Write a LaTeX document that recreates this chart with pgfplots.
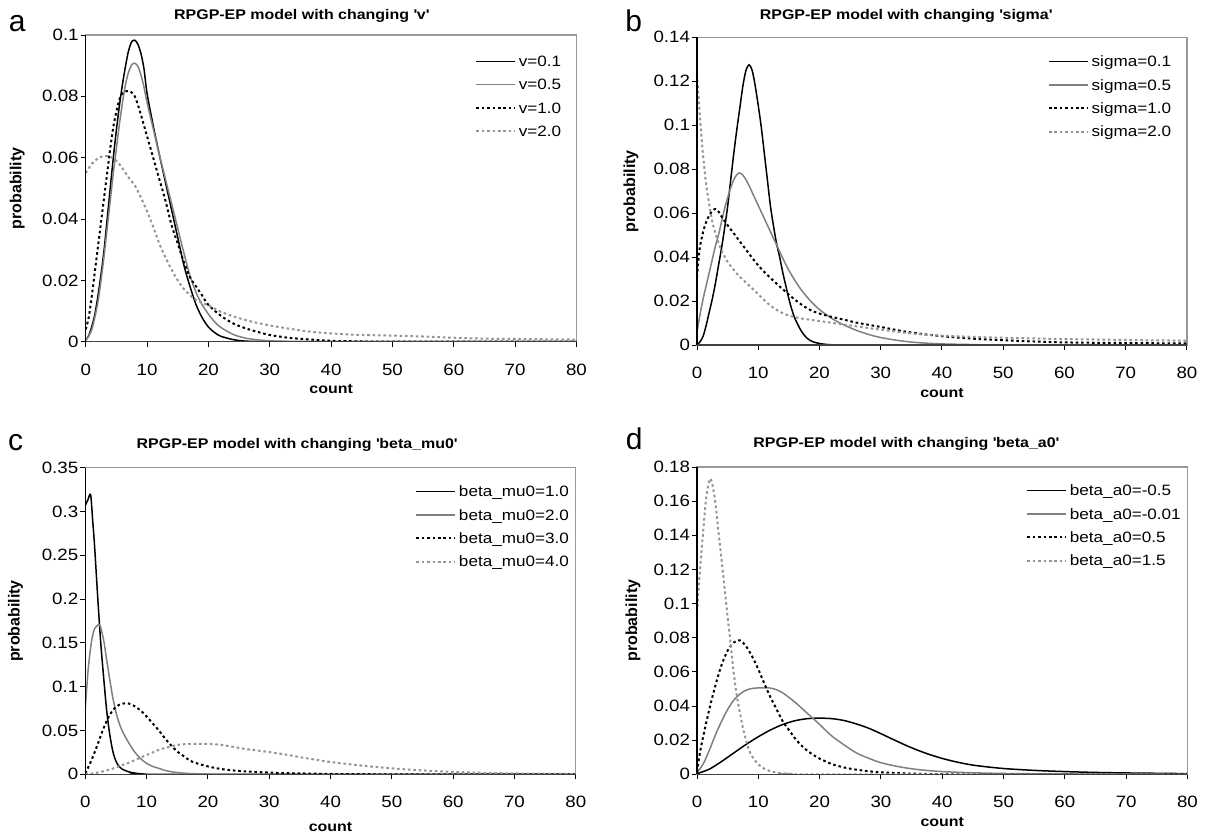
\documentclass[border=0pt]{standalone}
\usepackage{fontspec}
\setmainfont{Liberation Sans}[FakeStretch=1.14]
\newfontfamily\plainsans{Liberation Sans}
\usepackage{pgfplots}
\pgfplotsset{compat=1.18}

% line styles of the four series (Excel look)
\tikzset{
  s1/.style={black, line width=0.75pt, smooth, tension=0.5},
  s2/.style={black!50, line width=0.75pt, smooth, tension=0.5},
  s3/.style={black, line width=1pt, dash pattern=on 1.3pt off 1.4pt, smooth, tension=0.5},
  s4/.style={black!42, line width=1pt, dash pattern=on 1.3pt off 1.4pt, smooth, tension=0.5},
}

\pgfplotsset{
  panel/.style={
    scale only axis, anchor=south west,
    xmin=0, xmax=80, ymin=0,
    xtick={0,10,20,30,40,50,60,70,80},
    xticklabels={\mbox{0},\mbox{10},\mbox{20},\mbox{30},\mbox{40},\mbox{50},\mbox{60},\mbox{70},\mbox{80}},
    tick align=outside, tick pos=left,
    major tick length=2.5pt,
    axis line style={black!40, line width=0.6pt},
    every tick/.style={black, line width=0.5pt},
    ticklabel style={font=\fontsize{8.2}{9}\selectfont},
    xticklabel style={yshift=-5pt},
    yticklabel style={xshift=2.5pt},
    title style={font=\bfseries\fontsize{7}{8}\selectfont, anchor=base, yshift=-6pt},
    xlabel style={font=\bfseries\fontsize{7}{8}\selectfont, anchor=center},
    ylabel style={font=\plainsans\bfseries\fontsize{8}{9}\selectfont, anchor=center},
    xlabel=count, ylabel=probability,
    legend cell align=left,
    legend style={draw=none, fill=none, inner sep=0pt, anchor=north west,
      row sep=4.45pt, column sep=1.5pt, font=\fontsize{7.5}{8}\selectfont,
      cells={anchor=base west},
      nodes={inner sep=0pt, text height=5.7pt, text depth=1.5pt}},
    legend image code/.code={\draw[#1] (0pt,2.6pt) -- (19.3pt,2.6pt);},
    after end axis/.code={
      \draw[black, line width=0.6pt] (rel axis cs:0,1) -- (rel axis cs:0,0);
      \draw[black!75, line width=0.6pt] (rel axis cs:0,0) -- (rel axis cs:1,0);
    },
  },
}

\begin{document}
\begin{tikzpicture}
\useasboundingbox (0,0) rectangle (603.5pt,-418.5pt);

\node[anchor=base west, inner sep=0pt, font=\plainsans\fontsize{15}{18}\selectfont] at (4.2pt,-15.85pt) {a};
\node[anchor=base west, inner sep=0pt, font=\plainsans\fontsize{15}{18}\selectfont] at (312.5pt,-15.85pt) {b};
\node[anchor=base west, inner sep=0pt, font=\plainsans\fontsize{15}{18}\selectfont] at (3.9pt,-225.35pt) {c};
\node[anchor=base west, inner sep=0pt, font=\plainsans\fontsize{15}{18}\selectfont] at (312.7pt,-224.65pt) {d};

% ---------------- a ----------------
\begin{axis}[panel, at={(42.85pt,-170.85pt)}, width=245.4pt, height=153.35pt,
  ymax=0.1, ytick={0,0.02,0.04,0.06,0.08,0.1},
  yticklabels={\mbox{0},\mbox{0.02},\mbox{0.04},\mbox{0.06},\mbox{0.08},\mbox{0.1}},
  title={RPGP-EP model with changing \textquotesingle v\textquotesingle},
  title style={at={(rel axis cs:0.44,1.052)}},
  ylabel style={at={(rel axis cs:-0.1396,0.5)}},
  xlabel style={at={(rel axis cs:0.5,-0.155)}},
  legend style={at={(rel axis cs:0.793,0.9358)}}]
\addplot[s1] table {
x y
0 0.0005
0.5 0.002
1 0.005
1.5 0.009
2 0.015
2.5 0.022
3 0.03
3.5 0.04
4 0.05
4.5 0.06
5 0.069
5.5 0.077
6 0.084
6.5 0.09
7 0.095
7.5 0.0978
8 0.0983
8.5 0.097
9 0.094
9.5 0.089
10 0.081
11 0.0705
12 0.061
13 0.052
14 0.043
15 0.034
16 0.025
17 0.018
18 0.012
19 0.0078
20 0.0048
21 0.003
22 0.0018
24 0.0007
26 0.0002
28 0.0001
30 0
80 0
};
\addlegendentry{v=0.1}
\addplot[s2] table {
x y
0 0.0005
0.5 0.0018
1 0.004
1.5 0.008
2 0.013
2.5 0.02
3 0.028
3.5 0.037
4 0.046
4.5 0.055
5 0.063
5.5 0.071
6 0.078
6.5 0.084
7 0.088
7.5 0.0903
8 0.0908
8.5 0.0898
9 0.087
9.5 0.083
10 0.078
11 0.0695
12 0.061
13 0.053
14 0.045
15 0.037
16 0.029
17 0.0215
18 0.016
19 0.012
20 0.009
21 0.0065
22 0.0047
24 0.0024
26 0.0012
28 0.0006
30 0.0003
33 0.0001
36 0
80 0
};
\addlegendentry{v=0.5}
\addplot[s3] table {
x y
0 0.004
0.5 0.008
1 0.015
1.5 0.023
2 0.031
2.5 0.039
3 0.047
3.5 0.055
4 0.063
4.5 0.07
5 0.075
5.5 0.079
6 0.081
7 0.0818
8 0.08
9 0.074
10 0.067
11 0.06
12 0.053
13 0.046
14 0.038
15 0.032
16 0.026
17 0.021
18 0.018
19 0.015
20 0.012
22 0.0085
24 0.006
26 0.0044
28 0.0032
30 0.0022
33 0.0013
36 0.0008
40 0.0003
45 0.0001
50 0
80 0
};
\addlegendentry{v=1.0}
\addplot[s4] table {
x y
0 0.055
1 0.058
2 0.0598
3 0.0605
4 0.0603
5 0.059
6 0.0565
7 0.0535
8 0.051
9 0.047
10 0.0425
11 0.0375
12 0.032
13 0.0275
14 0.0235
15 0.02
16 0.0172
17 0.0152
18 0.0136
20 0.0118
22 0.0098
24 0.0083
26 0.0071
28 0.0061
30 0.0053
33 0.0043
36 0.0034
40 0.0027
45 0.0022
50 0.002
55 0.0017
60 0.0013
65 0.001
70 0.0009
75 0.0008
80 0.0007
};
\addlegendentry{v=2.0}
\end{axis}

% ---------------- b ----------------
\begin{axis}[panel, at={(348.5pt,-172.5pt)}, width=245pt, height=153.85pt,
  ymax=0.14, ytick={0,0.02,0.04,0.06,0.08,0.1,0.12,0.14},
  yticklabels={\mbox{0},\mbox{0.02},\mbox{0.04},\mbox{0.06},\mbox{0.08},\mbox{0.1},\mbox{0.12},\mbox{0.14}},
  title={RPGP-EP model with changing \textquotesingle sigma\textquotesingle},
  title style={at={(rel axis cs:0.4265,1.0595)}},
  ylabel style={at={(rel axis cs:-0.1347,0.5)}},
  xlabel style={at={(rel axis cs:0.5,-0.155)}},
  legend style={at={(rel axis cs:0.7157,0.9425)}}]
\addplot[s1] table {
x y
0 0
0.5 0.0015
1 0.004
1.5 0.009
2 0.015
2.5 0.021
3 0.028
3.5 0.036
4 0.044
4.5 0.053
5 0.063
5.5 0.075
6 0.087
6.5 0.098
7 0.108
7.5 0.118
8 0.125
8.5 0.1275
9 0.125
9.5 0.118
10 0.109
10.5 0.099
11 0.087
11.5 0.075
12 0.063
12.5 0.054
13 0.046
13.5 0.04
14 0.033
14.5 0.027
15 0.021
15.5 0.016
16 0.012
17 0.0065
18 0.003
19 0.0014
20 0.0007
21 0.0003
22 0.0001
24 0
80 0
};
\addlegendentry{sigma=0.1}
\addplot[s2] table {
x y
0 0.006
0.5 0.014
1 0.021
1.5 0.027
2 0.033
2.5 0.039
3 0.045
3.5 0.05
4 0.056
4.5 0.062
5 0.067
5.5 0.0715
6 0.0752
6.5 0.0775
7 0.0783
7.5 0.0772
8 0.0752
8.5 0.0725
9 0.0695
9.5 0.0665
10 0.0635
11 0.0575
12 0.0515
13 0.0455
14 0.0395
15 0.034
16 0.0293
17 0.0252
18 0.0217
19 0.0187
20 0.0161
22 0.0121
24 0.0091
26 0.0067
28 0.0048
30 0.0034
33 0.002
36 0.0011
40 0.0005
45 0.0002
50 0
80 0
};
\addlegendentry{sigma=0.5}
\addplot[s3] table {
x y
0 0.031
0.25 0.039
0.5 0.045
1 0.0515
1.5 0.056
2 0.059
2.5 0.061
3 0.0619
3.5 0.0608
4 0.0585
5 0.0545
6 0.0508
7 0.0471
8 0.0434
9 0.0397
10 0.0362
11 0.0332
12 0.0305
13 0.0279
14 0.0254
15 0.0229
16 0.0206
17 0.0185
18 0.0167
19 0.0153
20 0.0143
22 0.0128
24 0.0115
26 0.0102
28 0.0092
30 0.0082
33 0.0066
36 0.0053
40 0.004
45 0.0029
50 0.0022
55 0.0016
60 0.0012
65 0.001
70 0.0009
75 0.0008
80 0.0007
};
\addlegendentry{sigma=1.0}
\addplot[s4] table {
x y
0 0.123
0.25 0.113
0.5 0.103
0.75 0.094
1 0.086
1.5 0.073
2 0.064
2.5 0.056
3 0.051
3.5 0.0465
4 0.043
5 0.0378
6 0.0342
7 0.031
8 0.0284
9 0.0258
10 0.0231
11 0.0204
12 0.0179
13 0.016
14 0.0145
15 0.0134
16 0.0127
17 0.0121
18 0.0117
20 0.0109
22 0.0101
24 0.0093
26 0.0085
28 0.0077
30 0.007
33 0.0059
36 0.005
40 0.0043
45 0.0037
50 0.0033
55 0.003
60 0.0027
65 0.0025
70 0.0023
75 0.0021
80 0.002
};
\addlegendentry{sigma=2.0}
\end{axis}

% ---------------- c ----------------
\begin{axis}[panel, at={(42.65pt,-387.15pt)}, width=245.25pt, height=153.3pt,
  ymax=0.35, ytick={0,0.05,0.1,0.15,0.2,0.25,0.3,0.35},
  yticklabels={\mbox{0},\mbox{0.05},\mbox{0.1},\mbox{0.15},\mbox{0.2},\mbox{0.25},\mbox{0.3},\mbox{0.35}},
  title={RPGP-EP model with changing \textquotesingle beta\_mu0\textquotesingle},
  title style={at={(rel axis cs:0.4316,1.0633)}},
  ylabel style={at={(rel axis cs:-0.1425,0.5)}},
  xlabel style={at={(rel axis cs:0.5,-0.172)}},
  legend style={at={(rel axis cs:0.6722,0.9436)}}]
\addplot[s1] table {
x y
0 0.307
0.4 0.313
0.87 0.319
1.2 0.29
1.5 0.262
2 0.205
2.5 0.152
3 0.11
3.5 0.072
4 0.045
4.5 0.026
5 0.015
5.5 0.009
6 0.006
7 0.003
8 0.0015
9 0.0006
10 0.0002
12 0
80 0
};
\addlegendentry{beta\_mu0=1.0}
\addplot[s2] table {
x y
0 0.075
0.25 0.1
0.5 0.122
1 0.151
1.5 0.166
2.2 0.171
2.5 0.168
3 0.153
3.5 0.13
4 0.108
4.5 0.087
5 0.071
5.5 0.059
6 0.05
7 0.037
8 0.026
9 0.018
10 0.0125
11 0.009
12 0.0068
13 0.0045
14 0.003
15 0.002
17 0.0009
20 0.0003
25 0
80 0
};
\addlegendentry{beta\_mu0=2.0}
\addplot[s3] table {
x y
0 0.001
1 0.016
2 0.034
3 0.053
4 0.068
5 0.077
6 0.0805
7 0.081
8 0.078
9 0.073
10 0.066
11 0.058
12 0.05
13 0.041
14 0.033
15 0.026
16 0.021
17 0.016
18 0.013
20 0.009
22 0.0062
24 0.0045
26 0.0034
28 0.0026
30 0.002
33 0.0013
36 0.0009
40 0.0004
45 0.0002
50 0
80 0
};
\addlegendentry{beta\_mu0=3.0}
\addplot[s4] table {
x y
0 0
1 0.0008
2 0.002
3 0.0035
4 0.0055
5 0.0078
6 0.0105
7 0.013
8 0.016
9 0.019
10 0.022
11 0.025
12 0.028
13 0.03
14 0.032
15 0.0335
16 0.0343
18 0.0348
20 0.0347
22 0.0337
24 0.0315
26 0.029
28 0.0272
30 0.0254
33 0.0222
36 0.0184
40 0.0141
45 0.01
50 0.0068
55 0.0045
60 0.0028
65 0.0017
70 0.001
75 0.0006
80 0.0004
};
\addlegendentry{beta\_mu0=4.0}
\end{axis}

% ---------------- d ----------------
\begin{axis}[panel, at={(348.5pt,-387.15pt)}, width=245.25pt, height=153.65pt,
  ymax=0.18, ytick={0,0.02,0.04,0.06,0.08,0.1,0.12,0.14,0.16,0.18},
  yticklabels={\mbox{0},\mbox{0.02},\mbox{0.04},\mbox{0.06},\mbox{0.08},\mbox{0.1},\mbox{0.12},\mbox{0.14},\mbox{0.16},\mbox{0.18}},
  title={RPGP-EP model with changing \textquotesingle beta\_a0\textquotesingle},
  title style={at={(rel axis cs:0.4265,1.063)}},
  ylabel style={at={(rel axis cs:-0.1306,0.5)}},
  xlabel style={at={(rel axis cs:0.5,-0.155)}},
  legend style={at={(rel axis cs:0.6707,0.9447)}}]
\addplot[s1] table {
x y
0 0.0004
2 0.003
4 0.0075
6 0.0125
8 0.0175
10 0.022
12 0.026
14 0.0292
16 0.0314
18 0.0326
20 0.0329
22 0.0326
24 0.0315
26 0.0295
28 0.027
30 0.0238
32 0.0204
34 0.0171
36 0.0141
38 0.0115
40 0.0093
42 0.0075
44 0.006
46 0.0049
50 0.0034
55 0.0023
60 0.0016
65 0.0011
70 0.0008
75 0.0006
80 0.0004
};
\addlegendentry{beta\_a0=-0.5}
\addplot[s2] table {
x y
0 0.001
1 0.006
2 0.014
3 0.023
4 0.031
5 0.038
6 0.0435
7 0.047
8 0.0493
9 0.0503
10 0.0506
11.5 0.0507
12 0.0505
13 0.0495
14 0.0477
15 0.045
16 0.0422
17 0.039
18 0.0357
19 0.0325
20 0.0292
22 0.0224
24 0.0172
26 0.0125
28 0.0094
30 0.0068
33 0.0044
36 0.0028
40 0.0016
45 0.0009
50 0.0005
55 0.0003
60 0.0002
70 0.0001
80 0
};
\addlegendentry{beta\_a0=-0.01}
\addplot[s3] table {
x y
0 0.0015
0.5 0.013
1 0.022
2 0.038
3 0.052
4 0.064
5 0.0725
6 0.0772
7 0.0785
8 0.075
9 0.069
10 0.0615
11 0.053
12 0.045
13 0.038
14 0.031
15 0.026
16 0.021
17 0.017
18 0.0138
19 0.0113
20 0.0092
22 0.006
24 0.004
26 0.0027
28 0.0018
30 0.0012
35 0.0004
40 0.0001
45 0
80 0
};
\addlegendentry{beta\_a0=0.5}
\addplot[s4] table {
x y
0 0.095
0.25 0.108
0.5 0.12
1 0.142
1.5 0.162
2 0.172
2.2 0.173
2.5 0.17
3 0.159
3.5 0.142
4 0.126
4.5 0.109
5 0.092
5.5 0.076
6 0.059
6.5 0.046
7 0.036
7.5 0.027
8 0.02
8.5 0.014
9 0.0105
10 0.0058
11 0.0032
12 0.0018
13 0.001
15 0.0003
18 0
80 0
};
\addlegendentry{beta\_a0=1.5}
\end{axis}
\end{tikzpicture}
\end{document}
